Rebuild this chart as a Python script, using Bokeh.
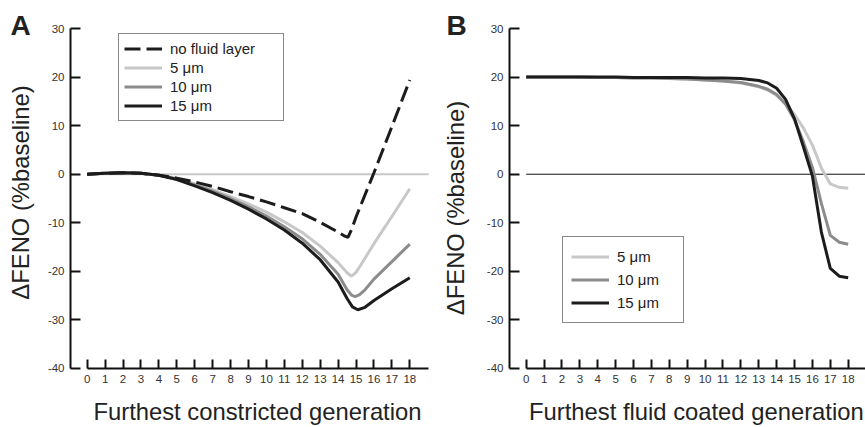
from bokeh.plotting import figure
from bokeh.layouts import row
from bokeh.models import Range1d, FixedTicker, Label, Legend, LegendItem
from bokeh.embed import file_html
from bokeh.resources import INLINE

# ---------------- data ----------------
gen_ticks = list(range(0, 19))
y_ticks = [-40, -30, -20, -10, 0, 10, 20, 30]
y_tick_labels = ["-40", "-30", "-20", "-10", "0", "10", "20", "30"]

# Panel A: furthest constricted generation
a_nofluid_x = [0, 1, 2, 3, 4, 5, 6, 7, 8, 9, 10, 11, 12, 13, 14, 14.35, 14.55, 14.75, 15, 16, 17, 18]
a_nofluid_y = [0, 0.2, 0.3, 0.2, -0.2, -0.8, -1.6, -2.5, -3.6, -4.6, -5.7, -6.9, -8.1, -9.9, -11.9, -12.7, -13.0, -11.4, -8.8, 0.3, 9.8, 19.4]

a_x = [0, 1, 2, 3, 4, 5, 6, 7, 8, 9, 10, 11, 12, 13, 14, 14.5, 14.75, 15, 15.25, 16, 17, 18]
a_5um = [0, 0.2, 0.3, 0.2, -0.2, -0.9, -2.0, -3.2, -4.6, -6.1, -7.8, -9.8, -12.0, -14.8, -18.2, -20.3, -21.0, -20.2, -18.8, -14.3, -8.7, -3.0]

a_x10 = [0, 1, 2, 3, 4, 5, 6, 7, 8, 9, 10, 11, 12, 13, 14, 14.5, 14.75, 14.95, 15.2, 15.5, 16, 17, 18]
a_10um = [0, 0.2, 0.3, 0.2, -0.2, -1.0, -2.2, -3.5, -5.0, -6.7, -8.6, -10.8, -13.3, -16.5, -20.6, -23.8, -24.9, -25.2, -24.8, -23.8, -21.6, -18.0, -14.4]

a_x15 = [0, 1, 2, 3, 4, 5, 6, 7, 8, 9, 10, 11, 12, 13, 14, 14.5, 14.8, 15.1, 15.5, 16, 17, 18]
a_15um = [0, 0.2, 0.3, 0.2, -0.2, -1.1, -2.4, -3.8, -5.4, -7.2, -9.2, -11.5, -14.2, -17.6, -22.2, -25.6, -27.3, -27.9, -27.4, -26.0, -23.6, -21.3]

# Panel B: furthest fluid coated generation
b_x = [0, 1, 2, 3, 4, 5, 6, 7, 8, 9, 10, 11, 12, 13, 13.5, 14, 14.5, 15, 15.5, 16, 16.5, 17, 17.5, 18]
b_5um = [20, 20, 20, 20, 19.9, 19.9, 19.8, 19.8, 19.7, 19.6, 19.4, 19.2, 18.8, 18.0, 17.3, 16.2, 14.6, 12.3, 9.5, 6.0, 1.3, -2.0, -2.7, -2.9]
b_10um = [20, 20, 20, 20, 19.9, 19.9, 19.8, 19.8, 19.7, 19.6, 19.4, 19.2, 18.9, 18.1, 17.5, 16.4, 14.4, 11.2, 6.6, 1.4, -6.0, -12.6, -14.0, -14.4]
b_15um = [20, 20, 20, 20, 20, 20, 19.9, 19.9, 19.9, 19.9, 19.8, 19.8, 19.7, 19.3, 18.8, 17.7, 15.4, 11.4, 5.6, -0.4, -11.9, -19.4, -21.0, -21.3]

legend_a = ["no fluid layer", "5 \u03bcm", "10 \u03bcm", "15 \u03bcm"]
legend_b = ["5 \u03bcm", "10 \u03bcm", "15 \u03bcm"]

xlabel_a = "Furthest constricted generation"
xlabel_b = "Furthest fluid coated generation"
ylabel = "\u0394FENO (%baseline)"

# ---------------- style ----------------
C_LIGHT = "#c8c8c8"
C_MID = "#8c8c8c"
C_DARK = "#1c1c1c"
FONT = "Liberation Sans"
LW = 3
TITLE_SIZE = "23.8px"
Y_MIN, Y_MAX = -40, 30

def make_fig(width, x_start, x_end, y_axis_at, axis_end):
    p = figure(width=width, height=427, output_backend="svg", toolbar_location=None,
               x_range=Range1d(x_start, x_end), y_range=Range1d(-52.15, 35.77),
               min_border_left=0, min_border_right=0, min_border_top=0, min_border_bottom=0)
    p.outline_line_color = None
    p.grid.visible = False
    p.background_fill_color = "white"
    p.border_fill_color = "white"
    for ax in (p.xaxis[0], p.yaxis[0]):
        ax.axis_line_width = 2
        ax.axis_line_color = "#111111"
        ax.major_tick_line_width = 2
        ax.major_tick_line_color = "#111111"
        ax.minor_tick_line_color = None
        ax.major_tick_out = 0
        ax.major_label_text_font = FONT
        ax.major_label_text_font_size = "11.5px"
        ax.major_label_text_color = "#333333"
    xa = p.xaxis[0]
    xa.fixed_location = Y_MIN
    xa.ticker = FixedTicker(ticks=gen_ticks)
    xa.major_tick_in = 9
    xa.major_label_standoff = 7
    xa.bounds = (0, axis_end)
    ya = p.yaxis[0]
    ya.fixed_location = y_axis_at
    ya.ticker = FixedTicker(ticks=y_ticks)
    ya.major_label_overrides = {t: s for t, s in zip(y_ticks, y_tick_labels)}
    ya.major_tick_in = 10
    ya.major_label_standoff = 6
    ya.bounds = (Y_MIN, Y_MAX)
    return p

def add_text(p, x, y, text, size, angle=0.0, bold=False, align="center", baseline="alphabetic"):
    p.add_layout(Label(x=x, y=y, text=text, text_font=FONT, text_font_size=size,
                       text_font_style="bold" if bold else "normal", angle=angle,
                       text_align=align, text_baseline=baseline, text_color="#222222"))

# ---------------- panel A ----------------
pA = make_fig(432, -4.838, 19.267, -0.932, 19.05)
pA.segment(x0=[0], y0=[0], x1=[19.05], y1=[0], line_color=C_LIGHT, line_width=2)
r5 = pA.line(a_x, a_5um, line_color=C_LIGHT, line_width=LW)
r10 = pA.line(a_x10, a_10um, line_color=C_MID, line_width=LW)
r15 = pA.line(a_x15, a_15um, line_color=C_DARK, line_width=LW)
rnf = pA.line(a_nofluid_x, a_nofluid_y, line_color=C_DARK, line_width=LW, line_dash="16 6")
legA = Legend(items=[LegendItem(label=legend_a[0], renderers=[rnf]),
                     LegendItem(label=legend_a[1], renderers=[r5]),
                     LegendItem(label=legend_a[2], renderers=[r10]),
                     LegendItem(label=legend_a[3], renderers=[r15])],
              location=(118, 306), padding=5, spacing=0, label_height=19, glyph_height=19,
              glyph_width=38, label_standoff=8, label_width=108, margin=0,
              border_line_color="#111111", border_line_width=1,
              label_text_font=FONT, label_text_font_size="15px", label_text_color="#222222")
pA.add_layout(legA, "center")
add_text(pA, 9.50, -48.95, xlabel_a, TITLE_SIZE)
add_text(pA, -3.70, -3.77, ylabel, TITLE_SIZE, angle=1.5708, baseline="middle")
add_text(pA, -4.28, 30.62, "A", "28px", bold=True, align="left")

# ---------------- panel B ----------------
pB = make_fig(433, -5.238, 18.967, -0.934, 19.5)
pB.segment(x0=[0], y0=[0], x1=[19.5], y1=[0], line_color="#111111", line_width=1)
s5 = pB.line(b_x, b_5um, line_color=C_LIGHT, line_width=LW)
s10 = pB.line(b_x, b_10um, line_color=C_MID, line_width=LW)
s15 = pB.line(b_x, b_15um, line_color=C_DARK, line_width=LW)
legB = Legend(items=[LegendItem(label=legend_b[0], renderers=[s5]),
                     LegendItem(label=legend_b[1], renderers=[s10]),
                     LegendItem(label=legend_b[2], renderers=[s15])],
              location=(130, 104), padding=8, spacing=0, label_height=23, glyph_height=23,
              glyph_width=38, label_standoff=8, label_width=58, margin=0,
              border_line_color="#111111", border_line_width=1,
              label_text_font=FONT, label_text_font_size="15px", label_text_color="#222222")
pB.add_layout(legB, "center")
add_text(pB, 9.51, -48.95, xlabel_b, TITLE_SIZE)
add_text(pB, -3.94, -6.96, ylabel, TITLE_SIZE, angle=1.5708, baseline="middle")
add_text(pB, -4.455, 30.62, "B", "28px", bold=True, align="left")

layout = row(pA, pB)
open("out.html", "w").write(file_html(layout, INLINE))
